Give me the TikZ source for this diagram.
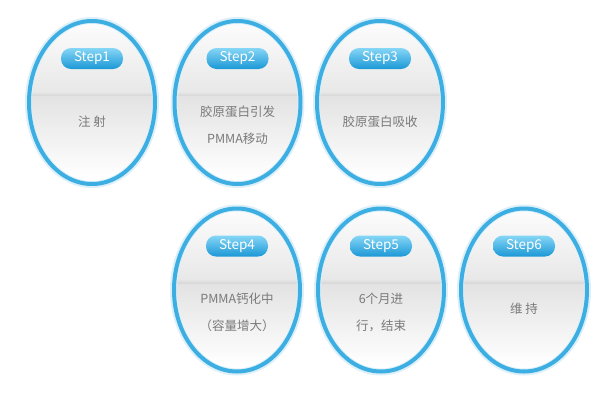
\documentclass[tikz,border=0pt]{standalone}
\usepackage{fontspec}
\setmainfont{Noto Sans CJK SC}
\usetikzlibrary{shapes.geometric}
\definecolor{ringblue}{HTML}{3DAEE2}
\definecolor{ringglow}{HTML}{DDF0FA}
\definecolor{pilltop}{HTML}{86D6F6}
\definecolor{pillbot}{HTML}{1B98D6}
\definecolor{txtgray}{HTML}{7A7A7A}
\newcommand\stepcirc[6]{%
  \begin{scope}
    \clip (#2,#3) ellipse [x radius=63, y radius=81.5];
    \shade[top color=white, bottom color=black!9] (#2-70,#3-90) rectangle (#2+70,#3-11);
    \shade[top color=black!9, bottom color=black!17] (#2-70,#3-11) rectangle (#2+70,#3-6);
    \shade[top color=black!11, bottom color=white] (#2-70,#3-6) rectangle (#2+70,#3+75);
  \end{scope}
  \node[glow] (#1g) at (#2,#3) {};
  \node[ring] (#1) at (#2,#3) {};
  \node[pill] (#1l) at (#2,#3-44) {#4};
  \node[body] (#1t) at (#2,#3+#6) {#5};
}
\begin{document}
\begin{tikzpicture}[x=1pt,y=-1pt,
  ring/.style={ellipse, draw=ringblue, line width=4pt, minimum width=126pt, minimum height=163pt, inner sep=0pt},
  glow/.style={ellipse, draw=ringglow, line width=7pt, minimum width=127pt, minimum height=164pt, inner sep=0pt},
  pill/.style={rounded corners=10pt, minimum width=62pt, minimum height=21pt, inner sep=0pt,
    top color=pilltop, bottom color=pillbot, text=white, font=\fontsize{13.5}{14}\selectfont},
  body/.style={text=txtgray, align=center, font=\fontsize{12.5}{27}\selectfont}]
\useasboundingbox[fill=white] (0,0) rectangle (600,400);
\stepcirc{s1}{92}{102.5}{Step1}{注 射}{19}
\stepcirc{s2}{237.5}{102.5}{Step2}{胶原蛋白引发\\PMMA移动}{22.5}
\stepcirc{s3}{380}{102.5}{Step3}{胶原蛋白吸收}{19}
\stepcirc{s4}{237}{290}{Step4}{PMMA钙化中\\（容量增大）}{22.5}
\stepcirc{s5}{381}{290}{Step5}{6个月进\\行，结束}{22.5}
\stepcirc{s6}{524}{290}{Step6}{维 持}{19}
\end{tikzpicture}
\end{document}
